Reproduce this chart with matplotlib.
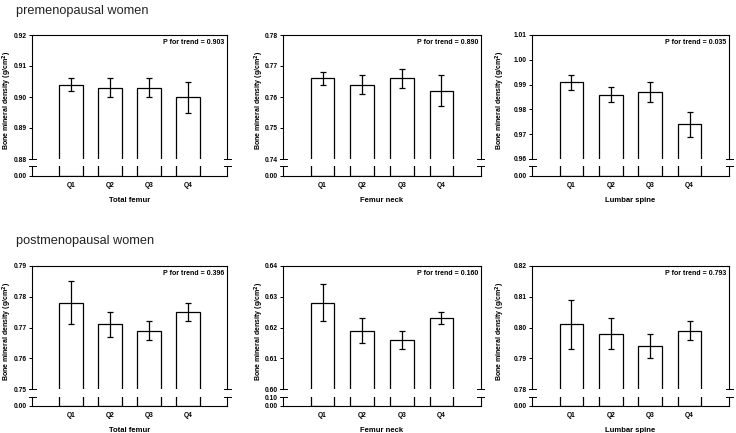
import matplotlib
matplotlib.use("Agg")
import matplotlib.pyplot as plt
import numpy as np

plt.rcParams['font.family'] = ['Liberation Sans', 'DejaVu Sans']

groups = ['premenopausal women', 'postmenopausal women']
sites = ['Total femur', 'Femur neck', 'Lumbar spine']
quartiles = ['Q1', 'Q2', 'Q3', 'Q4']

pre_means = [[0.904, 0.903, 0.903, 0.900],
             [0.766, 0.764, 0.766, 0.762],
             [0.991, 0.986, 0.987, 0.974]]
pre_err = [[0.002, 0.003, 0.003, 0.005],
           [0.002, 0.003, 0.003, 0.005],
           [0.003, 0.003, 0.004, 0.005]]
post_means = [[0.778, 0.771, 0.769, 0.775],
              [0.628, 0.619, 0.616, 0.623],
              [0.801, 0.798, 0.794, 0.799]]
post_err = [[0.007, 0.004, 0.003, 0.003],
            [0.006, 0.004, 0.003, 0.002],
            [0.008, 0.005, 0.004, 0.003]]
pre_p = ['0.903', '0.890', '0.035']
post_p = ['0.396', '0.160', '0.793']
pre_ylim = [(0.88, 0.92), (0.74, 0.78), (0.96, 1.01)]
post_ylim = [(0.75, 0.79), (0.60, 0.64), (0.78, 0.82)]
pre_low_ticks = [[0.0], [0.0], [0.0]]
post_low_ticks = [[0.0], [0.0, 0.10], [0.0]]

W, H = 736, 433
col_l = [32, 283, 532]
col_r = [227, 481, 729]
ylab_off = [-25, -24, -32]
row_px = [(35, 159, 166, 176), (266, 389, 397, 406)]
title_y = [11, 241]


def ax_px(fig, l, r, top, bot):
    return fig.add_axes([l / W, 1 - bot / H, (r - l) / W, (bot - top) / H])


def panel(fig, l, r, rows, means, errs, ylim, low_ticks, ptxt, site, yoff):
    top, brk, ltop, bot = rows
    x = np.arange(1, len(quartiles) + 1)
    up = ax_px(fig, l, r, top, brk)
    lo = ax_px(fig, l, r, ltop, bot)
    for a in (up, lo):
        a.bar(x, means, width=0.6, color='white', edgecolor='black', linewidth=0.9)
        a.set_xlim(0, 5)
        for s in a.spines.values():
            s.set_linewidth(0.8)
        a.tick_params(axis='y', direction='out', length=2.5, width=0.7, labelsize=4.8, pad=1.5)
    up.errorbar(x, means, yerr=errs, fmt='none', ecolor='black', elinewidth=0.9,
                capsize=2.2, capthick=0.9)
    up.set_ylim(*ylim)
    up.set_yticks(np.round(np.arange(ylim[0], ylim[1] + 0.0001, 0.01), 2))
    up.spines['bottom'].set_visible(False)
    up.set_xticks([])
    lo.set_ylim(0, 0.1)
    lo.set_yticks(low_ticks)
    lo.spines['top'].set_visible(False)
    lo.set_xticks(x)
    lo.set_xticklabels(quartiles, fontsize=4.8, fontweight='bold')
    lo.tick_params(axis='x', length=0, pad=4)
    for a in (up, lo):
        for lab in a.get_yticklabels():
            lab.set_fontweight('bold')
        a.yaxis.set_major_formatter(plt.FormatStrFormatter('%.2f'))
    # break marks
    d = 3.5 / (r - l)
    for xx in (0, 1):
        up.plot([xx - d, xx + d], [0, 0], transform=up.transAxes, color='black',
                lw=0.7, clip_on=False)
        lo.plot([xx - d, xx + d], [1, 1], transform=lo.transAxes, color='black',
                lw=0.7, clip_on=False)
    up.text(0.985, 0.965, 'P for trend = ' + ptxt, transform=up.transAxes,
            ha='right', va='top', fontsize=5, fontweight='bold')
    up.set_ylabel('Bone mineral density (g/cm$^\\mathbf{2}$)', fontsize=5,
                  fontweight='bold', va='center')
    up.yaxis.set_label_coords(yoff / (r - l), 0.47)
    lo.set_xlabel(site, fontsize=5.5, fontweight='bold', labelpad=6)


def main():
    fig = plt.figure(figsize=(W / 100, H / 100), dpi=100)
    data = [(pre_means, pre_err, pre_ylim, pre_low_ticks, pre_p),
            (post_means, post_err, post_ylim, post_low_ticks, post_p)]
    for g, (means, errs, ylims, lts, ps) in enumerate(data):
        fig.text(16 / W, 1 - title_y[g] / H, groups[g], fontsize=9.2, va='center',
                 ha='left', color='#222222')
        for c in range(3):
            panel(fig, col_l[c], col_r[c], row_px[g], means[c], errs[c], ylims[c],
                  lts[c], ps[c], sites[c], ylab_off[c])
    fig.savefig('out.png', dpi=100)


if __name__ == "__main__":
    main()
